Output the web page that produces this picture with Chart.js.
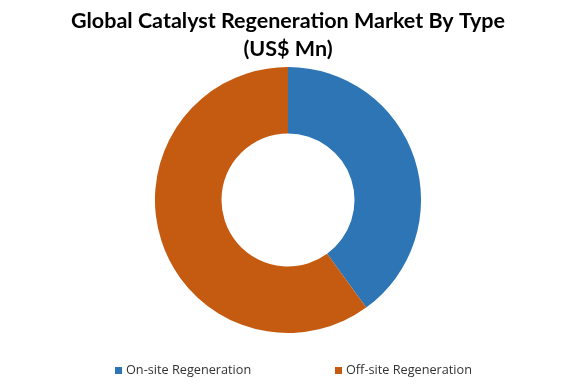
<!DOCTYPE html>
<html>
<head>
<meta charset="utf-8">
<script src="https://cdn.jsdelivr.net/npm/chart.js@4"></script>
<style>
  html, body { margin: 0; padding: 0; background: #fff; }
  #wrap { position: relative; width: 576px; height: 384px; }
  #legend { position: absolute; left: 0; top: 361px; width: 576px; height: 16px;
            font: 12.7px "Open Sans", sans-serif; color: #333; }
  .item { position: absolute; top: 0; line-height: 16px; white-space: nowrap; }
  .box { display: inline-block; width: 7px; height: 7px; margin-right: 4px; vertical-align: 0px; }
</style>
</head>
<body>
<div id="wrap">
  <canvas id="typeChart" width="576" height="384"></canvas>
  <div id="legend"></div>
</div>
<script>
const types = ['On-site Regeneration', 'Off-site Regeneration'];
const shares = [40, 60];
const colors = ['#2E75B6', '#C55A11'];
const legendX = [115, 335];

// legend drawn as html so the wide gap between the two items can be kept
const legend = document.getElementById('legend');
types.forEach((t, i) => {
    const el = document.createElement('div');
    el.className = 'item';
    el.style.left = legendX[i] + 'px';
    el.innerHTML = `<span class="box" style="background:${colors[i]}"></span>${t}`;
    legend.appendChild(el);
});

const ctx = document.getElementById('typeChart').getContext('2d');
new Chart(ctx, {
    type: 'doughnut',
    data: {
        labels: types,
        datasets: [{
            data: shares,
            backgroundColor: colors,
            borderWidth: 0,
        }],
    },
    options: {
        responsive: false,
        animation: false,
        cutout: '50%',
        layout: { padding: { bottom: 51 } },
        plugins: {
            legend: { display: false },
            tooltip: { enabled: false },
            title: {
                display: true,
                text: ['Global Catalyst Regeneration Market By Type', '(US$ Mn)'],
                color: '#000',
                font: { family: 'Lato', size: 21.5, weight: 'bold', lineHeight: 1.3 },
                padding: { top: 7, bottom: 4 },
            },
        },
    },
});
</script>
</body>
</html>
